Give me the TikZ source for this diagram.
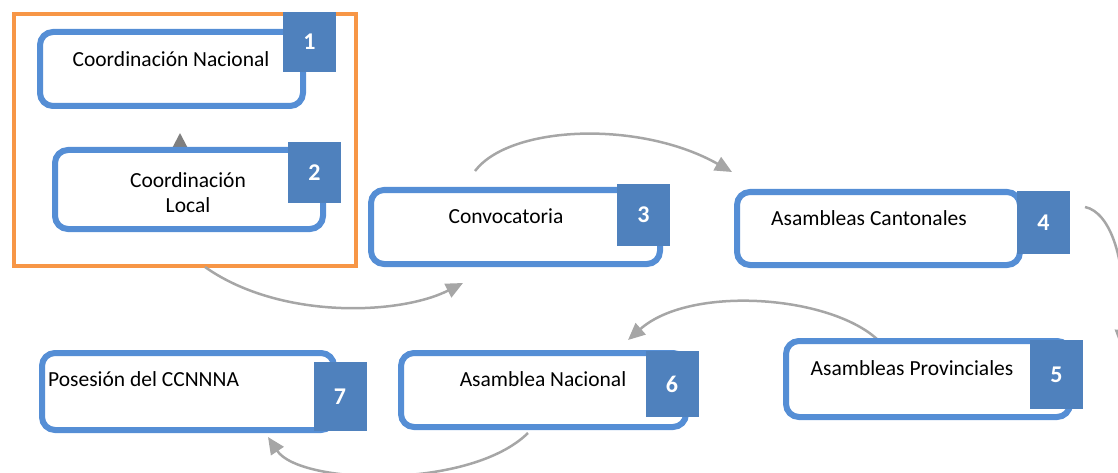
\documentclass[tikz,border=0pt]{standalone}
\usepackage{fontspec}
\setmainfont{Carlito}
\usetikzlibrary{arrows.meta}
\definecolor{boxblue}{HTML}{558ED5}
\definecolor{badgeblue}{HTML}{4F81BD}
\definecolor{frameorange}{HTML}{F79646}
\definecolor{arcgray}{HTML}{A6A6A6}
\definecolor{tipgray}{HTML}{7F7F7F}
\tikzset{
  stepbox/.style={draw=boxblue, line width=6pt, rounded corners=13pt, fill=white, inner sep=0pt},
  badge/.style={fill=badgeblue, inner sep=0pt, minimum width=53pt, text=white,
     font=\fontsize{24}{26}\selectfont\bfseries},
  lbl/.style={font=\fontsize{21.5}{25}\selectfont, inner sep=0pt, text height=15pt, text depth=4pt},
  flow/.style={draw=arcgray, line width=2.5pt, -{Triangle[length=17pt,width=15pt]}},
}
\begin{document}
\begin{tikzpicture}[x=1pt,y=-1pt]
\useasboundingbox (0,0) rectangle (1118,473);
\clip (0,0) rectangle (1118,473);
% frame
\node[draw=frameorange, line width=4pt, minimum width=342pt, minimum height=252pt, inner sep=0pt] (frame) at (185,140) {};
% connector coordinates
\coordinate (a1s) at (205,267); \coordinate (a1e) at (463,283);
\coordinate (a2s) at (475,171); \coordinate (a2e) at (732,172);
\coordinate (a3s) at (1085,207); \coordinate (a3e) at (1121,347);
\coordinate (a4s) at (878,340); \coordinate (a4e) at (628,340);
\coordinate (a5s) at (528,433); \coordinate (a5e) at (268,437);
\coordinate (u1s) at (180,152); \coordinate (u1e) at (180,133);
% arcs
\draw[flow] (a1s) .. controls (280,320) and (400,315) .. (a1e);
\draw[flow] (a2s) .. controls (510,125) and (640,120) .. (a2e);
\draw[flow] (a3s) .. controls (1110,212) and (1128,260) .. (a3e);
\draw[flow] (a4s) .. controls (830,295) and (690,285) .. (a4e);
\draw[flow] (a5s) .. controls (470,490) and (300,485) .. (a5e);
\draw[draw=tipgray, line width=2pt, -{Triangle[length=14pt,width=14pt]}] (u1s) -- (u1e);
% boxes
\node[stepbox, minimum width=263pt, minimum height=74pt] (b1) at (171.5,69) {};
\node[stepbox, minimum width=268pt, minimum height=79pt] (b2) at (189,189.5) {};
\node[stepbox, minimum width=289pt, minimum height=74pt] (b3) at (515.5,227) {};
\node[stepbox, minimum width=283pt, minimum height=73pt] (b4) at (878.5,228.5) {};
\node[stepbox, minimum width=284pt, minimum height=76pt] (b5) at (928,379) {};
\node[stepbox, minimum width=285pt, minimum height=74pt] (b6) at (543.5,390) {};
\node[stepbox, minimum width=292pt, minimum height=77pt] (b7) at (188,391.5) {};
% labels
\node[lbl] (t1) at (171,61) {Coordinación Nacional};
\node[lbl, align=center, text height=, text depth=] (t2) at (188,193) {Coordinación\\[0pt]Local};
\node[lbl] (t3) at (506,218) {Convocatoria};
\node[lbl] (t4) at (869,220) {Asambleas Cantonales};
\node[lbl] (t5) at (912,370) {Asambleas Provinciales};
\node[lbl] (t6) at (543,381) {Asamblea Nacional};
\node[lbl, anchor=west] (t7) at (48,381) {Posesión del CCNNNA};
% badges
\node[badge, minimum height=60pt] (n1) at (309.5,42) {1};
\node[badge, minimum height=61pt] (n2) at (314.5,172.5) {2};
\node[badge, minimum height=62pt] (n3) at (643.5,215) {3};
\node[badge, minimum height=63pt] (n4) at (1043.5,222.5) {4};
\node[badge, minimum height=69pt] (n5) at (1056.5,374.5) {5};
\node[badge, minimum height=66pt] (n6) at (672,384) {6};
\node[badge, minimum height=69pt] (n7) at (340,396.5) {7};
\end{tikzpicture}
\end{document}
